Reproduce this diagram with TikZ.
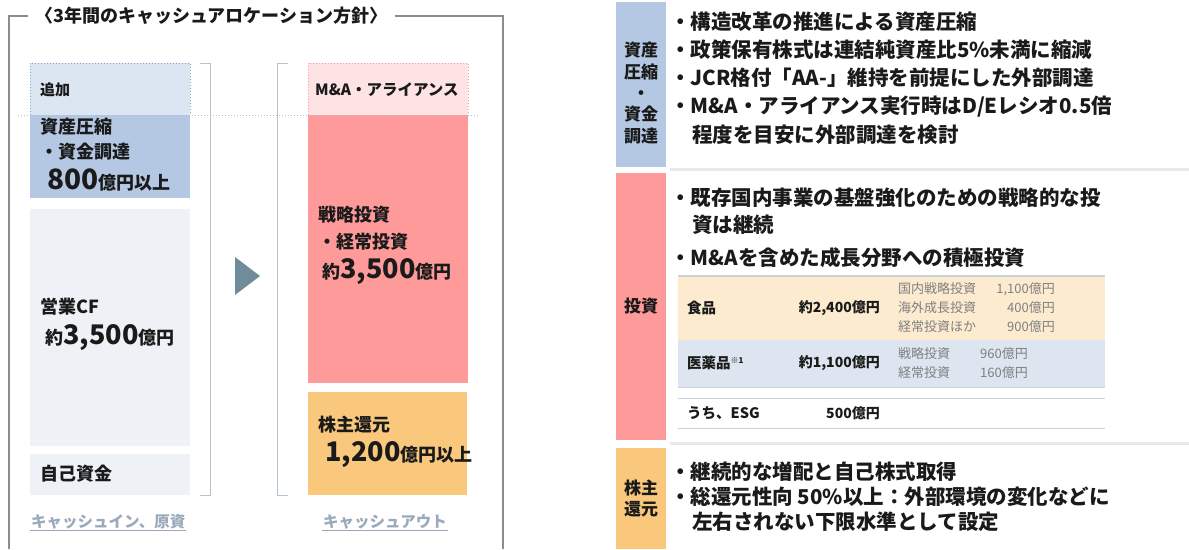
\documentclass[tikz,border=0pt]{standalone}
\usepackage{fontspec}
\setmainfont{Noto Sans CJK JP}
\usetikzlibrary{positioning}

\definecolor{addblue}{HTML}{DCE6F2}
\definecolor{addline}{HTML}{8FA5BF}
\definecolor{shrinkblue}{HTML}{B4C8E4}
\definecolor{opgray}{HTML}{EEF1F5}
\definecolor{mapink}{HTML}{FDE3E4}
\definecolor{maline}{HTML}{F4A0A8}
\definecolor{investred}{HTML}{FE9A9A}
\definecolor{payorange}{HTML}{F9C87C}
\definecolor{arrowgray}{HTML}{6F8C9B}
\definecolor{bracketgray}{HTML}{B7C3CE}
\definecolor{footgray}{HTML}{9AAABB}
\definecolor{framegray}{HTML}{8C8C8C}
\definecolor{sepgray}{HTML}{E6E9ED}
\definecolor{foodpeach}{HTML}{FDEBD0}
\definecolor{pharmablue}{HTML}{DCE5F0}
\definecolor{tabline}{HTML}{C9D3DC}
\definecolor{detailgray}{HTML}{808080}
\definecolor{ink}{HTML}{1A1A1A}

\newcommand{\fsz}[1]{\fontsize{#1}{1.2\dimexpr#1pt\relax}\selectfont}

\begin{document}
\begin{tikzpicture}[x=1pt, y=-1pt,
    box/.style={anchor=north west, inner sep=0pt, outer sep=0pt},
    txt/.style={anchor=west, inner sep=0pt, text=ink, font=\bfseries\fsz{18}},
    bullet/.style={anchor=west, inner sep=0pt, text=ink, font=\bfseries\fsz{20.5}},
    tag/.style={box, align=center, text=ink, font=\bfseries\fsz{17}},
    cell/.style={anchor=west, inner sep=0pt, text=ink, font=\bfseries\fsz{14.5}},
    amount/.style={anchor=east, inner sep=0pt, text=ink, font=\bfseries\fsz{14}},
    detail/.style={anchor=west, inner sep=0pt, text=detailgray, font=\fsz{13}},
    detamt/.style={anchor=east, inner sep=0pt, text=detailgray, font=\fsz{13}},
    foot/.style={anchor=west, inner sep=1pt, text=footgray, font=\bfseries\fsz{15.5}},
    frame/.style={draw=framegray, line width=1.2pt},
    bracket/.style={draw=bracketgray, line width=1pt},
    sep/.style={draw=sepgray, line width=3pt}
]
    \useasboundingbox (0,0) rectangle (1189,549);

    % left panel frame and title
    \node[anchor=west, inner xsep=7pt, inner ysep=0pt, text=ink, font=\bfseries\fsz{18}]
        (title) at (28,16) {〈3年間のキャッシュアロケーション方針〉};
    \coordinate (frameBL) at (9,549);
    \coordinate (frameBR) at (503,549);
    \draw[frame] (title.west) -| (frameBL);
    \draw[frame] (title.east) -| (frameBR);

    % cash in
    \node[box, fill=addblue, draw=addline, dotted, line width=1pt,
          minimum width=160pt, minimum height=52pt] (add) at (30,63) {};
    \node[box, fill=shrinkblue, minimum width=160pt, minimum height=83pt] (shrink) at (30,115) {};
    \node[box, fill=opgray, minimum width=160pt, minimum height=237pt] (opcf) at (30,209) {};
    \node[box, fill=opgray, minimum width=160pt, minimum height=41pt] (own) at (30,454) {};

    % cash out
    \node[box, fill=mapink, draw=maline, dotted, line width=1pt,
          minimum width=160pt, minimum height=52pt] (ma) at (308,63) {};
    \node[box, fill=investred, minimum width=160pt, minimum height=268pt] (invest) at (308,115) {};
    \node[box, fill=payorange, minimum width=159pt, minimum height=103pt] (payout) at (308,392) {};

    \draw[draw=addline!70, dotted, line width=1pt] (18,115) -- (480,115);

    \draw[bracket] (200,63) -- (210,63) -- (210,495) -- (200,495);
    \draw[bracket] (288,63) -- (277,63) -- (277,495) -- (288,495);
    \fill[arrowgray] (235,257) -- (260,276) -- (235,295) -- cycle;

    \node[txt, font=\bfseries\fsz{15}] (addT) at (40,90) {追加};
    \node[txt] (shrinkT1) at (40,127) {資産圧縮};
    \node[txt] (shrinkT2) at (40,152) {・資金調達};
    \node[txt] (shrinkT3) at (47,180) {{\fsz{28}800}億円以上};
    \node[txt] (opcfT1) at (40,307) {営業CF};
    \node[txt] (opcfT2) at (45,338) {約{\fsz{27}3,500}億円};
    \node[txt] (ownT) at (40,474) {自己資金};

    \node[txt, font=\bfseries\fsz{15.5}] (maT) at (315,90) {M\&A・アライアンス};
    \node[txt] (investT1) at (318,215) {戦略投資};
    \node[txt] (investT2) at (318,242) {・経常投資};
    \node[txt] (investT3) at (322,272) {約{\fsz{27}3,500}億円};
    \node[txt] (payoutT1) at (318,425) {株主還元};
    \node[txt] (payoutT2) at (325,455) {{\fsz{27}1,200}億円以上};

    \node[foot] (cin) at (30,522) {キャッシュイン、原資};
    \draw[footgray, line width=0.8pt] (cin.south west) -- (cin.south east);
    \node[foot] (cout) at (322,522) {キャッシュアウト};
    \draw[footgray, line width=0.8pt] (cout.south west) -- (cout.south east);

    % right panel: category tags
    \node[box, fill=shrinkblue, minimum width=50pt, minimum height=165pt] (tagFund) at (616,2) {};
    \node[text=ink, font=\bfseries\fsz{17}, align=center, inner sep=0pt]
        (tagFundT) at (641,93) {資産\\[1pt]圧縮\\[1pt]・\\[1pt]資金\\[1pt]調達};
    \node[tag, fill=investred, minimum width=50pt, minimum height=267pt] (tagInvest) at (616,173) {投資};
    \node[tag, fill=payorange, minimum width=50pt, minimum height=101pt] (tagPay) at (616,448) {株主\\[1pt]還元};

    \draw[sep] (670,169) -- (1189,169);
    \draw[sep] (670,443) -- (1189,443);

    % bullets
    \node[bullet] (f1) at (670,22) {・構造改革の推進による資産圧縮};
    \node[bullet] (f2) at (670,50) {・政策保有株式は連結純資産比5\%未満に縮減};
    \node[bullet] (f3) at (670,78) {・JCR格付「AA-」維持を前提にした外部調達};
    \node[bullet] (f4) at (670,107) {・M\&A・アライアンス実行時はD/Eレシオ0.5倍};
    \node[bullet] (f5) at (692,135) {程度を目安に外部調達を検討};

    \node[bullet] (i1) at (670,198) {・既存国内事業の基盤強化のための戦略的な投};
    \node[bullet] (i2) at (692,225) {資は継続};
    \node[bullet] (i3) at (670,258) {・M\&Aを含めた成長分野への積極投資};

    \node[bullet] (p1) at (670,472) {・継続的な増配と自己株式取得};
    \node[bullet] (p2) at (670,497) {・総還元性向 50\%以上：外部環境の変化などに};
    \node[bullet] (p3) at (692,522) {左右されない下限水準として設定};

    % investment table
    \node[box, fill=foodpeach, minimum width=427pt, minimum height=64pt] (food) at (678,276) {};
    \draw[tabline, line width=1.5pt] (food.north west) -- (food.north east);
    \node[box, fill=pharmablue, minimum width=427pt, minimum height=47pt] (pharma) at (678,340) {};
    \draw[tabline, line width=0.8pt] (pharma.south west) -- (pharma.south east);
    \node[box, minimum width=427pt, minimum height=30pt] (esg) at (678,398) {};
    \draw[tabline, line width=1pt] (esg.north west) -- (esg.north east);
    \draw[tabline, line width=1pt] (esg.south west) -- (esg.south east);

    \node[cell] (foodT) at (687,308) {食品};
    \node[amount] (foodA) at (880,308) {約2,400億円};
    \node[detail] (food1) at (898,289) {国内戦略投資};
    \node[detail] (food2) at (898,308) {海外成長投資};
    \node[detail] (food3) at (898,327) {経常投資ほか};
    \node[detamt] (food1A) at (1055,289) {1,100億円};
    \node[detamt] (food2A) at (1055,308) {400億円};
    \node[detamt] (food3A) at (1055,327) {900億円};

    \node[cell] (pharmaT) at (687,363) {医薬品\textsuperscript{\fsz{8}※1}};
    \node[amount] (pharmaA) at (880,363) {約1,100億円};
    \node[detail] (pharma1) at (898,354) {戦略投資};
    \node[detail] (pharma2) at (898,373) {経常投資};
    \node[detamt] (pharma1A) at (1028,354) {960億円};
    \node[detamt] (pharma2A) at (1028,373) {160億円};

    \node[cell] (esgT) at (687,413) {うち、ESG};
    \node[amount] (esgA) at (880,413) {500億円};
\end{tikzpicture}
\end{document}
